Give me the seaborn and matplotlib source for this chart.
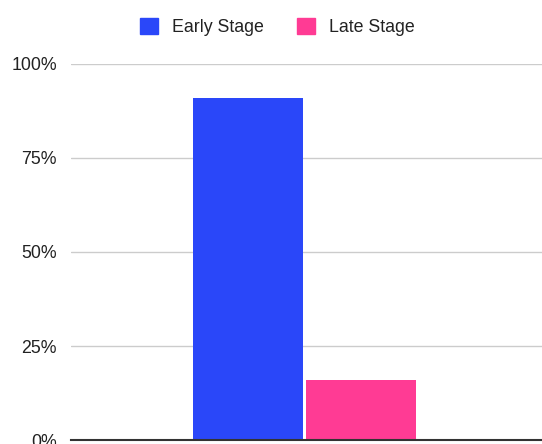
import matplotlib
matplotlib.use("Agg")
import matplotlib.pyplot as plt
import seaborn as sns
import pandas as pd
from matplotlib.patches import Patch

categories = ["All"]
stages = ["Early Stage", "Late Stage"]
values = [91, 16]
colors = ["#2a47f9", "#ff3b94"]
yticks = [0, 25, 50, 75, 100]
ytick_labels = ["0%", "25%", "50%", "75%", "100%"]

sns.set_theme(style="white")
plt.rcParams['font.family'] = ['Liberation Sans', 'DejaVu Sans']

df = pd.DataFrame({"cat": categories * len(stages), "stage": stages, "value": values})

fig = plt.figure(figsize=(5.42, 4.44), dpi=100)
ax = fig.add_axes([71/542, 4/444, 1 - 71/542, (440-64)/444])

sns.barplot(data=df, x="cat", y="value", hue="stage", palette=colors,
            width=0.48, gap=0.025, ax=ax, legend=False, saturation=1,
            edgecolor="none")

ax.set_ylim(0, 100)
ax.set_xlim(-0.495, 0.505)
ax.set_yticks(yticks)
ax.set_yticklabels(ytick_labels, fontsize=12.8, color="#222222")
ax.set_xticks([])
ax.set_xlabel("")
ax.set_ylabel("")
ax.yaxis.grid(True, color="#cccccc", linewidth=1)
ax.set_axisbelow(True)
for s in ["top", "right", "left"]:
    ax.spines[s].set_visible(False)
ax.spines["bottom"].set_color("#333333")
ax.spines["bottom"].set_linewidth(1.5)
ax.tick_params(axis="y", length=0, pad=10)

handles = [Patch(facecolor=c, edgecolor=c, label=s) for s, c in zip(stages, colors)]
fig.legend(handles=handles, loc="center", bbox_to_anchor=(0.512, 1 - 27/444),
           ncol=2, frameon=False, fontsize=12.8, handlelength=1.0, handleheight=1.0,
           handletextpad=0.8, columnspacing=1.9, labelcolor="#222222")

fig.savefig("out.png", dpi=100)
